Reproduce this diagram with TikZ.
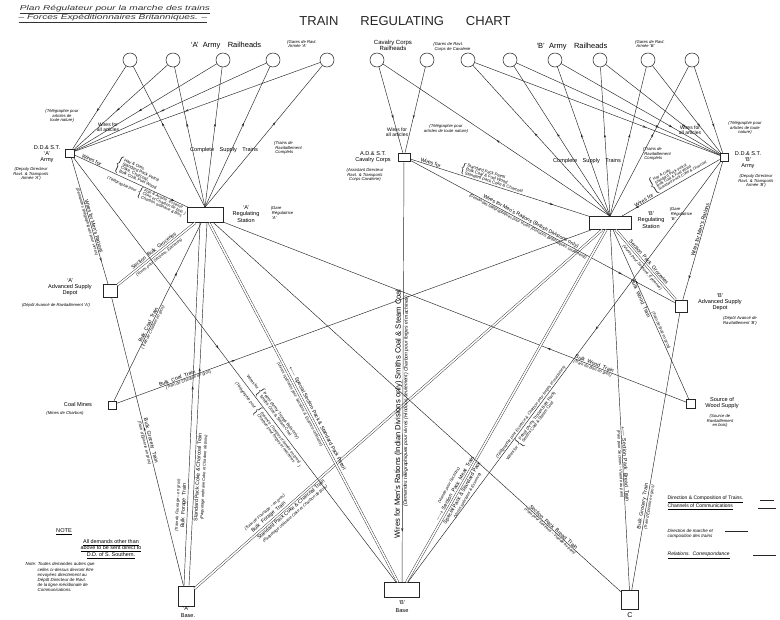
\documentclass[tikz,border=0pt]{standalone}
\usepackage{fontspec}
\usepackage{graphicx}
\setmainfont{Liberation Sans}
\usetikzlibrary{decorations.markings,arrows.meta}
\newcommand\brl[1]{$\left\{\renewcommand\arraystretch{0.72}\begin{tabular}{@{}l@{}}#1\end{tabular}\right.$}
\tikzset{
  ln/.style={line width=0.45pt, draw=black!85},
  dbl/.style={line width=0.4pt, draw=black!85, double=white, double distance=1.6pt},
  rh/.style={circle, draw=black!85, line width=0.55pt, minimum size=14pt, inner sep=0pt},
  bx/.style={draw=black!85, line width=0.6pt, inner sep=0pt},
  nm/.style={font=\fontsize{5.6}{6.2}\selectfont, align=center, inner sep=0.5pt},
  fr/.style={font=\fontsize{4.2}{4.8}\selectfont\itshape, align=center, inner sep=0.5pt},
  tl/.style={font=\fontsize{5.2}{5.8}\selectfont, sloped, inner sep=0.6pt, align=center},
  tf/.style={font=\fontsize{4}{4.6}\selectfont\itshape, sloped, inner sep=0.6pt, align=center},
  sm/.style={font=\fontsize{4.2}{4.6}\selectfont},
  fwd/.style={postaction={decorate}, decoration={markings, mark=at position #1 with {\arrow{Stealth[length=3.5pt,width=2.2pt]}}}},
}
\begin{document}
\begin{tikzpicture}[x=1pt,y=-1pt]
\useasboundingbox (0,0) rectangle (780,620);
\fill[white] (0,0) rectangle (780,620);

% ---------- titles ----------
\node[font=\fontsize{13}{14}\selectfont, text=black!85] (title) at (405,21) {TRAIN\hspace{22pt}REGULATING\hspace{22pt}CHART};
\node[font=\fontsize{7}{8}\selectfont\itshape, text=black!80] (plan1) at (115,10) {\scalebox{1.45}[1]{\underline{Plan Régulateur pour la marche des trains}}};
\node[font=\fontsize{7}{8}\selectfont\itshape, text=black!80] (plan2) at (113,18.5) {\scalebox{1.45}[1]{\underline{-- Forces Expéditionnaires Britanniques. --}}};

% ---------- railheads ----------
\foreach \n/\x in {a1/130,a2/173,a3/223,a4/273,a5/327,c1/377,c2/427,b1/468,b2/510,b3/555,b4/600,b5/648,b6/692}
  \node[rh] (\n) at (\x,60) {};

\node[font=\fontsize{7.5}{8}\selectfont] (arh) at (226,46) {`A'\ \ Army\quad Railheads};
\node[fr, align=left] (arhf) at (302,44) {\{Gares de Ravt.\\ \ Armée `A'};
\node[nm, font=\fontsize{6}{6.2}\selectfont] (crh) at (393,45) {Cavalry Corps\\Railheads};
\node[fr, align=left] (crhf) at (452,47) {\{Gares de Ravt.\\ \ Corps de Cavalerie};
\node[font=\fontsize{7.5}{8}\selectfont] (brh) at (572,47) {`B'\ \ Army\quad Railheads};
\node[fr, align=left] (brhf) at (650,44) {\{Gares de Ravt.\\ \ Armée `B'};

% ---------- main boxes ----------
\node[bx, minimum width=9pt, minimum height=8pt] (ddsta) at (70,153) {};
\node[bx, minimum width=36pt, minimum height=15pt] (rega) at (205,215) {};
\node[bx, minimum width=14pt, minimum height=13pt] (asda) at (110,291) {};
\node[bx, minimum width=8pt, minimum height=8pt] (coal) at (112,405) {};
\node[bx, minimum width=16pt, minimum height=20pt] (basea) at (186,596) {};
\node[bx, minimum width=35pt, minimum height=15pt] (baseb) at (402,590) {};
\node[bx, minimum width=17pt, minimum height=19pt] (basec) at (630,600) {};
\node[bx, minimum width=12pt, minimum height=8pt] (cav) at (404,157) {};
\node[bx, minimum width=42pt, minimum height=13pt] (regb) at (610,223) {};
\node[bx, minimum width=8pt, minimum height=8pt] (ddstb) at (724,157) {};
\node[bx, minimum width=12pt, minimum height=12pt] (asdb) at (681,306) {};
\node[bx, minimum width=9pt, minimum height=9pt] (wood) at (691,404) {};

% ---------- box labels ----------
\node[nm] (ddstal) at (47,154) {D.D.\& S.T.\\`A'\\Army};
\node[fr] (ddstaf) at (31,174) {(Deputy Directeur\\Ravt. \& Transports\\Armée `A')};
\node[nm] (regal) at (246,214) {`A'\\Regulating\\Station};
\node[fr, align=left] (regaf) at (282,213) {\{Gare\\ \ Régulatrice\\ \ `A'};
\node[nm] (asdal) at (70,287) {`A'\\Advanced Supply\\Depot};
\node[fr] (asdaf) at (56,305) {(Dépôt Avancé de Ravitaillement `A')};
\node[nm] (coall) at (78,404) {Coal Mines};
\node[fr] (coalf) at (65,413) {(Mines de Charbon)};
\node[nm] (cavl) at (373,157) {A.D.\& S.T.\\Cavalry Corps};
\node[fr] (cavf) at (365,175) {(Assistant Directeur\\Ravt. \& Transports\\Corps Cavalerie)};
\node[nm] (regbl) at (651,220) {`B'\\Regulating\\Station};
\node[fr, align=left] (regbf) at (681,214) {\{Gare\\ \ Régulatrice\\ \ `B'};
\node[nm] (ddstbl) at (748,160) {D.D.\& S.T.\\`B'\\Army};
\node[fr] (ddstbf) at (756,181) {(Deputy Directeur\\Ravt. \& Transports\\Armée `B')};
\node[nm] (asdbl) at (720,302) {`B'\\Advanced Supply\\Depot};
\node[fr] (asdbf) at (740,321) {(Dépôt Avancé de\\Ravitaillement `B')};
\node[nm] (woodl) at (722,403) {Source of\\Wood Supply};
\node[fr] (woodf) at (720,421) {(Source de\\Ravitaillement\\en bois)};
\node[nm] (baseal) at (186,609) {`A'};
\node[nm] (baseal2) at (188,616) {Base.};
\node[nm] (basebl) at (402,603) {`B'};
\node[nm] (basebl2) at (402,611) {Base};
\node[font=\fontsize{7}{8}\selectfont] (basecl) at (630,615) {C};

% ---------- wires for all articles / complete supply trains ----------
\node[nm, font=\fontsize{5}{5.4}\selectfont] (wa1) at (108,127) {Wires for\\all articles};
\node[fr] (wa1f) at (62,116) {(Télégraphie pour\\articles de\\toute nature)};
\node[nm, font=\fontsize{5}{5.4}\selectfont] (wa2) at (397,132) {Wires for\\all articles};
\node[fr] (wa2f) at (446,129) {(Télégraphie pour\\articles de toute nature)};
\node[nm, font=\fontsize{5}{5.4}\selectfont] (wa3) at (690,130) {Wires for\\all articles};
\node[fr] (wa3f) at (745,128) {(Télégraphie pour\\articles de toute\\nature)};
\node[nm] (cst1) at (224,150) {Complete\quad Supply\quad Trains};
\node[fr, align=left] (cst1f) at (288,148) {\{Trains de\\ \ Ravitaillement\\ \ Complets};
\node[nm] (cst2) at (587,161) {Complete\quad Supply\quad Trains};
\node[fr, align=left] (cst2f) at (657,154) {\{Trains de\\ \ Ravitaillement\\ \ Complets};

% ---------- railhead connections ----------
\foreach \n in {a1,a2,a3,a4,a5} {
  \draw[ln, fwd=0.55] (\n) -- (ddsta);
  \draw[ln, fwd=0.6] (rega.north) -- (\n);
}
\draw[ln, fwd=0.6] (c1) -- (cav);
\draw[ln, fwd=0.6] (c2) -- (cav);
\draw[ln, fwd=0.5] (regb.north) -- (c1);
\foreach \n in {b1,b2,b3,b4,b5,b6} {
  \draw[ln, fwd=0.7] (\n) -- (ddstb);
  \draw[ln, fwd=0.55] (regb.north) -- (\n);
}

% ---------- A side ----------
\draw[ln, fwd=0.88] (ddsta) --
  node[tl, pos=0.14, above] {Wires for}
  node[tl, pos=0.52, above, sm] {\brl{Hay \& Oats\\Standard Pack Petrol\\Coke, Charcoal,\\Bulk Coal, Fuel Wood}}
  node[tf, pos=0.66, below] {(Télégraphie pour \brl{Foin \& Avoine, Essence\\Coke et Charbon de bois\\Charbon ordinaire \& Bois})}
  (rega);
\draw[ln, fwd=0.82] (ddsta) --
  node[tl, pos=0.55, above] {Wires for Men's Rations}
  node[tf, pos=0.5, below] {(Demandes télégraphiques pour vivres)}
  (asda);
\draw[dbl] (asda) --
  node[tl, pos=0.5, above=1.5pt] {Section\ \ Bulk\ \ Groceries}
  node[tf, pos=0.5, below=1.5pt] {(Vivres pour Sections, Épiceries)}
  (rega);
\draw[ln, fwd=0.72] (coal) --
  node[tl, pos=0.42, above] {Bulk\ \ Coal\ \ Train}
  node[tf, pos=0.42, below] {(Train de Charbon en gros)}
  (rega);
\draw[ln, fwd=0.25] (coal) --
  node[tl, pos=0.13, above] {Bulk\ \ Coal\ \ Train}
  node[tf, pos=0.15, below] {(Train de Charbon en gros)}
  (regb);
\draw[ln, fwd=0.55] (basea) --
  node[tl, pos=0.5, above] {Bulk\ \ Grocery\ \ Train}
  node[tf, pos=0.5, below] {(Train d'Épicerie en gros)}
  (asda);
\draw[ln, fwd=0.55] ([xshift=-2pt]basea.north) --
  node[tl, pos=0.22, above=0.5pt] {Bulk\ \ Forage\ \ Train}
  node[tf, pos=0.22, above=7pt] {(Train de Fourrage -- en gros)}
  ([xshift=-5pt]rega.south);
\draw[ln, fwd=0.6] ([xshift=3pt]basea.north) --
  node[tl, pos=0.3, below=0.5pt] {Standard Pack Coke \& Charcoal Train}
  node[tf, pos=0.3, below=7pt] {(Paquetage ordinaire Coke et Charbon de Bois)}
  ([xshift=2pt]rega.south);
\draw[dbl] (basea) --
  node[tl, pos=0.19, above=1.5pt] {Bulk\ \ Forage\ \ Train}
  node[tf, pos=0.19, above=8pt] {(Train de Fourrage -- en gros)}
  node[tl, pos=0.23, below=1.5pt] {Standard Pack Coke \& Charcoal Train}
  node[tf, pos=0.23, below=8pt] {(Paquetage ordinaire Coke et Charbon de Bois)}
  (regb);
\draw[dbl] (rega) --
  node[tl, pos=0.55, above=1.5pt] {$\longleftarrow$ Special Section Pack \& Standard Pack Petrol}
  node[tf, pos=0.5, below=1.5pt] {(Vivres spéciales pour Sections \& Essence ordinaire)}
  (baseb);
\draw[ln, fwd=0.45] (ddsta) --
  node[tl, pos=0.6, above, sm] {Wires for \brl{Petrol (Army Troops Bulk only)\\Smiths Coal \& Steam Coal}}
  node[tf, pos=0.62, below] {(Télégraphie pour \brl{Essence (Troupes d'Armée en gros)\\Charbon pour forges et machines})}
  (baseb);

% ---------- cavalry ----------
\draw[ln, fwd=0.8] (cav) --
  node[tl, pos=0.11, above] {Wires for}
  node[tl, pos=0.45, above, sm] {\brl{Standard Pack Petrol\\Bulk Coal \& Fuel Wood\\Standard Pack Coke \& Charcoal}}
  (regb);
\draw[ln, fwd=0.8] (cav) --
  node[tl, pos=0.45, above] {Wires for Men's Rations (British Divisions only)}
  node[tf, pos=0.45, below] {(Demandes télégraphiques pour vivres (Divisions Britanniques seulement))}
  (asdb);
\draw[ln, fwd=0.88] (cav) --
  node[tl, pos=0.6, above, font=\fontsize{7.6}{8}\selectfont] {Wires for Men's Rations (Indian Divisions only) Smiths Coal \& Steam Coal}
  node[tf, pos=0.57, below, font=\fontsize{5}{5.4}\selectfont\itshape] {(Demandes télégraphiques pour vivres (Hindous seulement) Charbon pour forges et machines)}
  (baseb);

% ---------- B side ----------
\draw[ln, fwd=0.86] (ddstb) --
  node[tl, pos=0.76, above] {Wires for}
  node[tl, pos=0.38, above, font=\fontsize{3.8}{4.2}\selectfont] {\brl{Hay \& Oats\\Standard Pack Petrol\\Bulk Coal \& Fuel Wood\\Standard Pack Coke \& Charcoal}}
  (regb);
\draw[ln, fwd=0.85] (ddstb) --
  node[tl, pos=0.5, above] {Wires for Men's Rations}
  (asdb);
\draw[dbl] (asdb) --
  node[tl, pos=0.5, above=1.5pt] {Section\ \ Pack\ \ Groceries}
  node[tf, pos=0.5, below=1.5pt] {(Vivres pour Sections, Épiceries)}
  (regb);
\draw[ln, fwd=0.3] (wood) --
  node[tl, pos=0.2, above] {Bulk\ \ Wood\ \ Train}
  node[tf, pos=0.2, below] {(Train de Bois en gros)}
  (rega);
\draw[ln, fwd=0.7] (wood) --
  node[tl, pos=0.6, below] {Bulk\ \ Wood\ \ Train}
  node[tf, pos=0.4, above] {(Train de Bois en gros)}
  (regb);
\draw[dbl] (baseb) --
  node[tl, pos=0.26, above=1.5pt] {$\longrightarrow$ Section\ \ Pack\ \ Meat\ \ Train}
  node[tf, pos=0.26, above=8pt] {(Viande pour Sections)}
  node[tl, pos=0.26, below=1.5pt] {Special Pack \& Standard Pack}
  node[tf, pos=0.26, below=8pt] {(Vivres spéciales \& Essence)}
  (regb);
\draw[ln, fwd=0.4] (ddstb) --
  node[tl, pos=0.62, below, sm] {Wires for \brl{Petrol (Army Troops Bulk Pack)\\Smiths Coal \& Steam Coal}}
  node[tf, pos=0.6, above] {(Télégraphie pour Essence \& Charbon pour forges et machines)}
  (baseb);
\draw[ln] (basec) --
  node[tl, pos=0.17, above] {Section\ \ Pack\ \ Bread\ \ Train}
  node[tf, pos=0.17, below] {(Pain pour Sections -- Viande au pain)}
  (rega);
\draw[ln] (basec) --
  node[tl, pos=0.35, above] {$\longleftarrow$ Section\ \ Pack\ \ Bread\ \ Train}
  node[tf, pos=0.35, below] {(Pain pour Sections -- Viande au pain)}
  (regb);
\draw[ln] (basec) --
  node[tl, pos=0.3, above] {Bulk\ \ Grocery\ \ Train}
  node[tf, pos=0.3, below] {(Train d'Épicerie en gros)}
  (asdb);

% ---------- note ----------
\node[nm, font=\fontsize{5.6}{6}\selectfont] (notet) at (64,532) {\underline{NOTE}};
\node[nm, font=\fontsize{5.4}{6.4}\selectfont] (notee) at (111,549) {\underline{All demands other than}\\\underline{above to be sent direct to}\\\underline{D.D. of S. Southern.}};
\node[fr, align=left, anchor=north west, font=\fontsize{4.4}{5.2}\selectfont\itshape] (notef) at (25,562) {Note: Toutes demandes autres que\\ \hspace{12pt}celles ci-dessus devront être\\ \hspace{12pt}envoyées directement au\\ \hspace{12pt}Dépôt Directeur de Ravt.\\ \hspace{12pt}de la ligne méridionale de\\ \hspace{12pt}Communications.};

% ---------- legend ----------
\node[nm, align=left, anchor=west, font=\fontsize{5}{6.5}\selectfont] (leg1) at (667,503) {\underline{Direction \& Composition of Trains.}\\\underline{Channels of Communications}};
\draw[ln] (760,500) -- (774,500);
\draw[ln] (758,508) -- (776,508);
\node[fr, align=left, anchor=west, font=\fontsize{4.5}{5}\selectfont\itshape] (leg2) at (667,534) {Direction de marche et\\composition des trains};
\draw[ln] (725,531) -- (748,531);
\node[fr, anchor=west, font=\fontsize{5}{5.5}\selectfont\itshape] (leg3) at (667,555) {\underline{Relations.\ \ Correspondance}};
\draw[ln] (753,555) -- (776,555);
\end{tikzpicture}
\end{document}
